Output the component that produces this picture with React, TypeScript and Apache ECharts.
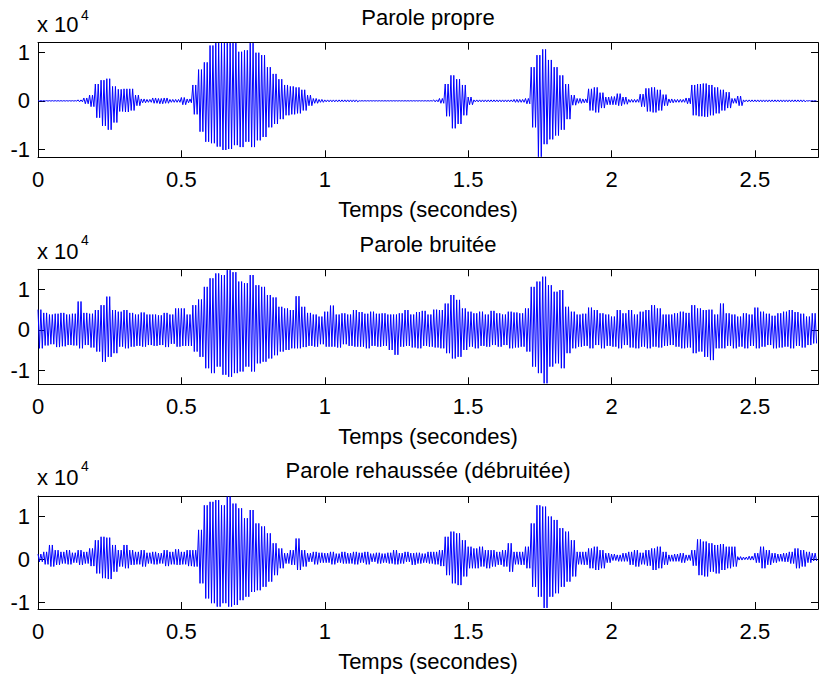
import { useEffect, useRef } from "react";
import * as echarts from "echarts";

// ---- data (amplitudes in units of 10^4, envelope per 0.02 s bin: max then min) ----
const BIN_SECONDS = 0.02;
const STROKES_PER_BIN = 4;
const X_MAX = 2.72;
const X_TICKS = [0, 0.5, 1, 1.5, 2, 2.5];
const Y_TICKS = [-1, 0, 1];
const TITLES = ["Parole propre", "Parole bruitée", "Parole rehaussée (débruitée)"];
const X_LABEL = "Temps (secondes)";
const EXPONENT_BASE = "x 10";
const EXPONENT = "4";
const Y_LIMITS = [
  [-1.172, 1.208],
  [-1.334, 1.491],
  [-1.154, 1.465],
];

const CLEAN_HI = [
  0.005, 0.005, 0.005, 0.005, 0.005, 0.005, 0.005, 0.02, 0.06, 0.12,
  0.35, 0.43, 0.46, 0.3, 0.24, 0.25, 0.25, 0.12, 0.04, 0.03,
  0.06, 0.05, 0.06, 0.03, 0.03, 0.07, 0.04, 0.33, 0.65, 0.8,
  1.15, 1.2, 1.2, 1.2, 1.2, 1.02, 1.05, 1.2, 1.0, 0.95,
  0.7, 0.56, 0.45, 0.33, 0.3, 0.28, 0.23, 0.12, 0.05, 0.03,
  0.02, 0.02, 0.02, 0.02, 0.02, 0.02, 0.005, 0.005, 0.005, 0.005,
  0.005, 0.005, 0.005, 0.005, 0.005, 0.005, 0.005, 0.005, 0.005, 0.02,
  0.05, 0.35, 0.53, 0.45, 0.33, 0.08, 0.02, 0.02, 0.02, 0.02,
  0.02, 0.02, 0.02, 0.03, 0.03, 0.05, 0.7, 0.95, 1.07, 0.85,
  0.7, 0.53, 0.35, 0.12, 0.05, 0.04, 0.25, 0.28, 0.17, 0.08,
  0.09, 0.15, 0.08, 0.03, 0.03, 0.14, 0.26, 0.28, 0.23, 0.13,
  0.04, 0.03, 0.03, 0.06, 0.33, 0.35, 0.36, 0.33, 0.28, 0.23,
  0.18, 0.05, 0.1, 0.02, 0.02, 0.02, 0.02, 0.02, 0.02, 0.02,
  0.02, 0.02, 0.02, 0.02, 0.005, 0.005,
];
const CLEAN_LO = [
  -0.005, -0.005, -0.005, -0.005, -0.005, -0.005, -0.005, -0.02, -0.06, -0.12,
  -0.35, -0.52, -0.6, -0.45, -0.22, -0.23, -0.2, -0.1, -0.04, -0.03,
  -0.05, -0.06, -0.05, -0.03, -0.03, -0.08, -0.04, -0.28, -0.64, -0.85,
  -0.88, -0.95, -1.02, -1.0, -0.92, -0.96, -0.85, -0.96, -0.82, -0.75,
  -0.55, -0.48, -0.38, -0.3, -0.28, -0.26, -0.2, -0.1, -0.05, -0.03,
  -0.02, -0.02, -0.02, -0.02, -0.02, -0.02, -0.005, -0.005, -0.005, -0.005,
  -0.005, -0.005, -0.005, -0.005, -0.005, -0.005, -0.005, -0.005, -0.005, -0.02,
  -0.05, -0.32, -0.57, -0.48, -0.3, -0.08, -0.02, -0.02, -0.02, -0.02,
  -0.02, -0.02, -0.02, -0.03, -0.03, -0.06, -0.55, -1.16, -0.9, -0.8,
  -0.72, -0.6, -0.38, -0.09, -0.05, -0.04, -0.2, -0.24, -0.15, -0.08,
  -0.08, -0.1, -0.07, -0.03, -0.03, -0.12, -0.22, -0.24, -0.2, -0.1,
  -0.04, -0.03, -0.03, -0.06, -0.3, -0.32, -0.33, -0.3, -0.26, -0.2,
  -0.15, -0.05, -0.1, -0.02, -0.02, -0.02, -0.02, -0.02, -0.02, -0.02,
  -0.02, -0.02, -0.02, -0.02, -0.005, -0.005,
];

const NOISY_HI = [
  0.5, 0.42, 0.38, 0.4, 0.42, 0.38, 0.4, 0.7, 0.42, 0.4,
  0.49, 0.61, 0.82, 0.49, 0.45, 0.49, 0.42, 0.38, 0.43, 0.38,
  0.38, 0.36, 0.42, 0.38, 0.53, 0.53, 0.38, 0.61, 0.75, 1.06,
  1.27, 1.39, 1.35, 1.47, 1.42, 1.19, 1.15, 1.35, 1.1, 1.06,
  0.86, 0.8, 0.57, 0.53, 0.49, 0.83, 0.57, 0.42, 0.38, 0.33,
  0.45, 0.6, 0.38, 0.41, 0.38, 0.49, 0.44, 0.4, 0.45, 0.4,
  0.41, 0.38, 0.38, 0.41, 0.49, 0.38, 0.44, 0.47, 0.38, 0.5,
  0.49, 0.65, 0.86, 0.74, 0.53, 0.45, 0.41, 0.45, 0.38, 0.47,
  0.41, 0.38, 0.45, 0.43, 0.41, 0.53, 1.06, 1.19, 1.31, 1.1,
  0.94, 0.98, 0.57, 0.45, 0.38, 0.4, 0.55, 0.49, 0.41, 0.38,
  0.33, 0.49, 0.41, 0.49, 0.38, 0.45, 0.49, 0.61, 0.53, 0.38,
  0.38, 0.41, 0.45, 0.42, 0.61, 0.53, 0.49, 0.5, 0.38, 0.65,
  0.41, 0.38, 0.33, 0.41, 0.38, 0.55, 0.45, 0.4, 0.35, 0.41,
  0.45, 0.49, 0.44, 0.4, 0.33, 0.41,
];
const NOISY_LO = [
  -0.45, -0.38, -0.35, -0.42, -0.4, -0.37, -0.38, -0.45, -0.37, -0.43,
  -0.53, -0.78, -0.66, -0.57, -0.41, -0.45, -0.41, -0.39, -0.41, -0.37,
  -0.39, -0.37, -0.42, -0.34, -0.41, -0.39, -0.39, -0.53, -0.66, -0.94,
  -1.06, -0.9, -1.1, -1.15, -1.06, -1.02, -0.9, -1.02, -0.82, -0.78,
  -0.7, -0.62, -0.53, -0.49, -0.45, -0.45, -0.42, -0.39, -0.41, -0.35,
  -0.41, -0.41, -0.43, -0.35, -0.39, -0.41, -0.41, -0.45, -0.39, -0.41,
  -0.39, -0.49, -0.61, -0.41, -0.39, -0.43, -0.45, -0.39, -0.41, -0.43,
  -0.45, -0.57, -0.7, -0.66, -0.49, -0.41, -0.45, -0.39, -0.41, -0.37,
  -0.41, -0.37, -0.45, -0.43, -0.41, -0.53, -0.9, -1.06, -1.31, -0.9,
  -0.82, -0.94, -0.57, -0.45, -0.41, -0.39, -0.45, -0.37, -0.45, -0.39,
  -0.41, -0.45, -0.37, -0.43, -0.45, -0.41, -0.45, -0.41, -0.43, -0.39,
  -0.37, -0.41, -0.45, -0.43, -0.57, -0.53, -0.66, -0.74, -0.45, -0.45,
  -0.39, -0.45, -0.41, -0.45, -0.39, -0.45, -0.41, -0.37, -0.45, -0.43,
  -0.41, -0.45, -0.39, -0.43, -0.37, -0.33,
];

const ENHANCED_HI = [
  0.12, 0.17, 0.33, 0.21, 0.17, 0.21, 0.15, 0.21, 0.17, 0.25,
  0.44, 0.52, 0.5, 0.33, 0.21, 0.33, 0.21, 0.17, 0.21, 0.15,
  0.17, 0.14, 0.21, 0.17, 0.23, 0.17, 0.21, 0.21, 0.68, 1.25,
  1.33, 1.37, 1.25, 1.45, 1.29, 1.18, 0.95, 1.14, 0.83, 0.76,
  0.6, 0.37, 0.25, 0.14, 0.21, 0.48, 0.21, 0.14, 0.17, 0.15,
  0.14, 0.17, 0.13, 0.17, 0.14, 0.17, 0.15, 0.17, 0.13, 0.15,
  0.13, 0.15, 0.21, 0.14, 0.17, 0.14, 0.15, 0.13, 0.17, 0.17,
  0.21, 0.52, 0.64, 0.6, 0.44, 0.29, 0.25, 0.29, 0.21, 0.21,
  0.17, 0.21, 0.37, 0.17, 0.17, 0.29, 0.83, 1.25, 1.22, 0.99,
  0.91, 0.72, 0.64, 0.44, 0.17, 0.17, 0.25, 0.29, 0.21, 0.14,
  0.12, 0.1, 0.14, 0.17, 0.21, 0.15, 0.21, 0.25, 0.29, 0.17,
  0.1, 0.12, 0.14, 0.1, 0.21, 0.46, 0.41, 0.37, 0.33, 0.35,
  0.29, 0.29, 0.06, 0.05, 0.07, 0.14, 0.29, 0.21, 0.14, 0.12,
  0.14, 0.17, 0.25, 0.21, 0.17, 0.14,
];
const ENHANCED_LO = [
  -0.06, -0.12, -0.17, -0.13, -0.1, -0.12, -0.08, -0.13, -0.1, -0.16,
  -0.33, -0.44, -0.46, -0.29, -0.17, -0.21, -0.13, -0.12, -0.17, -0.1,
  -0.12, -0.1, -0.16, -0.12, -0.13, -0.12, -0.16, -0.17, -0.56, -0.91,
  -1.02, -1.1, -1.02, -1.1, -1.06, -0.95, -0.87, -0.76, -0.72, -0.64,
  -0.52, -0.37, -0.21, -0.1, -0.13, -0.25, -0.17, -0.06, -0.12, -0.08,
  -0.08, -0.12, -0.08, -0.1, -0.1, -0.12, -0.08, -0.12, -0.06, -0.1,
  -0.08, -0.1, -0.12, -0.1, -0.06, -0.13, -0.1, -0.08, -0.1, -0.12,
  -0.16, -0.37, -0.56, -0.6, -0.4, -0.21, -0.21, -0.17, -0.21, -0.17,
  -0.13, -0.17, -0.29, -0.12, -0.13, -0.21, -0.64, -0.87, -1.13, -0.87,
  -0.79, -0.64, -0.52, -0.4, -0.12, -0.13, -0.21, -0.25, -0.21, -0.08,
  -0.03, -0.05, -0.05, -0.13, -0.17, -0.12, -0.15, -0.25, -0.21, -0.13,
  -0.05, -0.05, -0.08, -0.03, -0.15, -0.37, -0.4, -0.29, -0.33, -0.25,
  -0.21, -0.17, -0.02, -0.01, -0.02, -0.08, -0.21, -0.13, -0.08, -0.05,
  -0.06, -0.1, -0.21, -0.17, -0.08, -0.04,
];

const SIGNALS = [
  { hi: CLEAN_HI, lo: CLEAN_LO },
  { hi: NOISY_HI, lo: NOISY_LO },
  { hi: ENHANCED_HI, lo: ENHANCED_LO },
];

// ---- layout ----
const FONT = "'Liberation Sans', Arial, Helvetica, sans-serif";
const FS = 22;
const GRID_LEFT = 38;
const GRID_WIDTH = 780;
const GRID_TOPS = [42.7, 269.3, 496];
const GRID_HEIGHTS = [114.6, 115, 113];
const TITLE_Y = [17.3, 244, 470.6];
const EXP_BASE_Y = [24.6, 251.6, 477.3];
const EXP_Y = [15.1, 240.1, 465.8];

// Each bin's read maximum and minimum are drawn as alternating vertical swings
// (the trace oscillates between the bin's envelope values), like a dense waveform.
function envelopeTrace(hi: number[], lo: number[]) {
  const pts: number[][] = [];
  let up = true;
  hi.forEach((h, i) => {
    const t0 = i * BIN_SECONDS;
    for (let k = 0; k < STROKES_PER_BIN; k++) {
      pts.push([t0 + (k * BIN_SECONDS) / STROKES_PER_BIN, up ? h : lo[i]]);
      up = !up;
    }
  });
  return pts;
}

export default function App() {
  const ref = useRef<HTMLDivElement>(null);
  useEffect(() => {
    if (!ref.current) return;
    const chart = echarts.init(ref.current, undefined, { renderer: "svg" });
    const black = "#000000";
    const axisLine = { show: true, onZero: false, lineStyle: { color: black, width: 1 } };
    const grids: any[] = [];
    const xAxes: any[] = [];
    const yAxes: any[] = [];
    const series: any[] = [];
    const graphics: any[] = [];
    SIGNALS.forEach((sig, i) => {
      grids.push({ left: GRID_LEFT, top: GRID_TOPS[i], width: GRID_WIDTH, height: GRID_HEIGHTS[i] });
      const xTick = { show: true, inside: true, length: 7, customValues: X_TICKS, lineStyle: { color: black, width: 1 } };
      const yTick = { show: true, inside: true, length: 7, customValues: Y_TICKS, lineStyle: { color: black, width: 1 } };
      xAxes.push({
        gridIndex: i, type: "value", min: 0, max: X_MAX, position: "bottom",
        axisLine, axisTick: xTick, splitLine: { show: false },
        axisLabel: { customValues: X_TICKS, color: black, fontSize: FS, fontFamily: FONT, margin: 11 },
        name: X_LABEL, nameLocation: "middle", nameGap: 41,
        nameTextStyle: { color: black, fontSize: FS, fontFamily: FONT },
      });
      xAxes.push({
        gridIndex: i, type: "value", min: 0, max: X_MAX, position: "top",
        axisLine, axisTick: xTick, splitLine: { show: false }, axisLabel: { show: false },
      });
      yAxes.push({
        gridIndex: i, type: "value", min: Y_LIMITS[i][0], max: Y_LIMITS[i][1], position: "left",
        axisLine, axisTick: yTick, splitLine: { show: false },
        axisLabel: { customValues: Y_TICKS, color: black, fontSize: FS, fontFamily: FONT, margin: 8 },
      });
      yAxes.push({
        gridIndex: i, type: "value", min: Y_LIMITS[i][0], max: Y_LIMITS[i][1], position: "right",
        axisLine, axisTick: yTick, splitLine: { show: false }, axisLabel: { show: false },
      });
      series.push({
        type: "line", xAxisIndex: 2 * i, yAxisIndex: 2 * i,
        data: envelopeTrace(sig.hi, sig.lo),
        showSymbol: false, symbol: "none", silent: true, clip: true,
        lineStyle: { color: "#0000ff", width: 1 },
      });
      graphics.push({
        type: "text", x: GRID_LEFT + GRID_WIDTH / 2, y: TITLE_Y[i],
        style: { text: TITLES[i], fill: black, fontSize: FS, fontFamily: FONT, align: "center", verticalAlign: "middle", textAlign: "center", textVerticalAlign: "middle" },
      });
      graphics.push({
        type: "text", x: 37, y: EXP_BASE_Y[i],
        style: { text: EXPONENT_BASE, fill: black, fontSize: FS, fontFamily: FONT, align: "left", verticalAlign: "middle", textAlign: "left", textVerticalAlign: "middle" },
      });
      graphics.push({
        type: "text", x: 81, y: EXP_Y[i],
        style: { text: EXPONENT, fill: black, fontSize: 14, fontFamily: FONT, align: "left", verticalAlign: "middle", textAlign: "left", textVerticalAlign: "middle" },
      });
    });
    chart.setOption({
      animation: false,
      backgroundColor: "#ffffff",
      grid: grids,
      xAxis: xAxes,
      yAxis: yAxes,
      series,
      graphic: graphics,
    });
    return () => chart.dispose();
  }, []);
  return <div ref={ref} style={{ position: "fixed", left: 0, top: 0, width: 819, height: 677 }} />;
}
